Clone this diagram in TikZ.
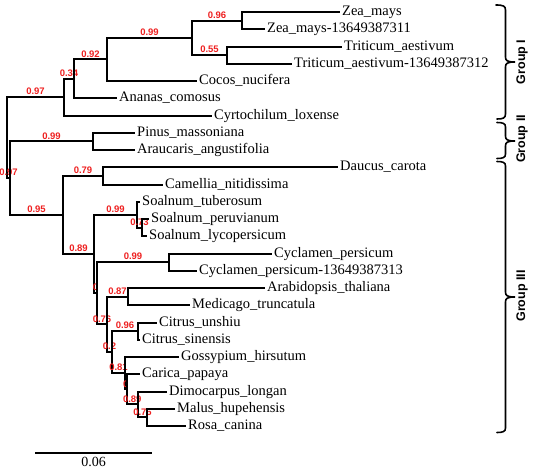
\documentclass[tikz,border=0pt]{standalone}
\usepackage{fontspec}
\setmainfont{Liberation Serif}
\newfontfamily\lsans{Liberation Sans}
\definecolor{bootred}{RGB}{238,32,32}
\tikzset{
 br/.style={line width=2pt, line join=miter},
 leaf/.style={anchor=west, inner xsep=2pt, inner ysep=0pt, text height=9pt, text depth=2pt, font=\fontsize{14.5}{16}\selectfont},
 boot/.style={above, inner sep=1.2pt, text=bootred, font=\lsans\bfseries\fontsize{9.5}{10}\selectfont},
 grp/.style={rotate=90, font=\lsans\bfseries\fontsize{12.5}{14}\selectfont},
 bracepath/.style={line width=1.6pt, line cap=round}
}
\newcommand{\leafat}[4]{\coordinate (#1) at (#2,#3); \node[leaf] (#1t) at (#1) {#4};}
\begin{document}
\begin{tikzpicture}[x=1pt,y=-1pt]
\useasboundingbox (0,0) rectangle (539,472);
% internal nodes
\coordinate (root) at (7,137.7);
\coordinate (n097a) at (64,97.2);
\coordinate (n034) at (74,78.8);
\coordinate (n092) at (107,59.4);
\coordinate (n099a) at (192,37.9);
\coordinate (n096) at (242,20.6);
\coordinate (n055) at (227,55.1);
\coordinate (n097b) at (10,178.2);
\coordinate (nP099) at (93,141.4);
\coordinate (n095) at (63,215);
\coordinate (n079) at (103,175.9);
\coordinate (n089a) at (94,254);
\coordinate (nS099) at (137,214.7);
\coordinate (n073) at (142,227.6);
\coordinate (n0a) at (97,293.2);
\coordinate (nC099) at (169,262.1);
\coordinate (n076a) at (107,324.4);
\coordinate (n087) at (128,296.6);
\coordinate (n02) at (112,352.1);
\coordinate (n096b) at (138,331.1);
\coordinate (n081) at (125,373.2);
\coordinate (nX) at (126.5,389.3);
\coordinate (n089b) at (138,404.4);
\coordinate (n076b) at (147,417.4);
% leaves (tip coordinate + label node)
\leafat{L0}{340}{12}{Zea\_mays}
\leafat{L1}{265}{29.25}{Zea\_mays-13649387311}
\leafat{L2}{342}{46.5}{Triticum\_aestivum}
\leafat{L3}{292}{63.75}{Triticum\_aestivum-13649387312}
\leafat{L4}{197}{81}{Cocos\_nucifera}
\leafat{L5}{117}{98.25}{Ananas\_comosus}
\leafat{L6}{212}{115.5}{Cyrtochilum\_loxense}
\leafat{L7}{135}{132.75}{Pinus\_massoniana}
\leafat{L8}{135}{150}{Araucaris\_angustifolia}
\leafat{L9}{338}{167.25}{Daucus\_carota}
\leafat{L10}{163}{184.5}{Camellia\_nitidissima}
\leafat{L11}{140}{201.75}{Soalnum\_tuberosum}
\leafat{L12}{149}{219}{Soalnum\_peruvianum}
\leafat{L13}{147}{236.25}{Soalnum\_lycopersicum}
\leafat{L14}{272}{253.5}{Cyclamen\_persicum}
\leafat{L15}{197}{270.75}{Cyclamen\_persicum-13649387313}
\leafat{L16}{265}{288}{Arabidopsis\_thaliana}
\leafat{L17}{190}{305.25}{Medicago\_truncatula}
\leafat{L18}{157}{322.5}{Citrus\_unshiu}
\leafat{L19}{140}{339.75}{Citrus\_sinensis}
\leafat{L20}{179}{357}{Gossypium\_hirsutum}
\leafat{L21}{140}{374.25}{Carica\_papaya}
\leafat{L22}{167}{391.5}{Dimocarpus\_longan}
\leafat{L23}{175}{408.75}{Malus\_hupehensis}
\leafat{L24}{186}{426}{Rosa\_canina}
% branches
\draw[br] (root) |- (n097a) node[boot,pos=0.75]{0.97};
\draw[br] (root) |- (n097b) node[boot,pos=0.75]{0.97};
\draw[br] (n097a) |- (n034) node[boot,pos=0.75]{0.34};
\draw[br] (n097a) |- (L6);
\draw[br] (n034) |- (n092) node[boot,pos=0.75]{0.92};
\draw[br] (n034) |- (L5);
\draw[br] (n092) |- (n099a) node[boot,pos=0.75]{0.99};
\draw[br] (n092) |- (L4);
\draw[br] (n099a) |- (n096) node[boot,pos=0.75]{0.96};
\draw[br] (n099a) |- (n055) node[boot,pos=0.75]{0.55};
\draw[br] (n096) |- (L0);
\draw[br] (n096) |- (L1);
\draw[br] (n055) |- (L2);
\draw[br] (n055) |- (L3);
\draw[br] (n097b) |- (nP099) node[boot,pos=0.75]{0.99};
\draw[br] (n097b) |- (n095) node[boot,pos=0.75]{0.95};
\draw[br] (nP099) |- (L7);
\draw[br] (nP099) |- (L8);
\draw[br] (n095) |- (n079) node[boot,pos=0.75]{0.79};
\draw[br] (n095) |- (n089a) node[boot,pos=0.75]{0.89};
\draw[br] (n079) |- (L9);
\draw[br] (n079) |- (L10);
\draw[br] (n089a) |- (nS099) node[boot,pos=0.75]{0.99};
\draw[br] (n089a) |- (n0a) node[boot,pos=0.75]{0};
\draw[br] (nS099) |- (L11);
\draw[br] (nS099) |- (n073) node[boot,pos=0.75]{0.73};
\draw[br] (n073) |- (L12);
\draw[br] (n073) |- (L13);
\draw[br] (n0a) |- (nC099) node[boot,pos=0.75]{0.99};
\draw[br] (n0a) |- (n076a) node[boot,pos=0.75]{0.76};
\draw[br] (nC099) |- (L14);
\draw[br] (nC099) |- (L15);
\draw[br] (n076a) |- (n087) node[boot,pos=0.75]{0.87};
\draw[br] (n076a) |- (n02) node[boot,pos=0.75]{0.2};
\draw[br] (n087) |- (L16);
\draw[br] (n087) |- (L17);
\draw[br] (n02) |- (n096b) node[boot,pos=0.75]{0.96};
\draw[br] (n02) |- (n081) node[boot,pos=0.75]{0.81};
\draw[br] (n096b) |- (L18);
\draw[br] (n096b) |- (L19);
\draw[br] (n081) |- (L20);
\draw[br] (n081) |- (nX) node[boot,pos=0.75]{0};
\draw[br] (nX) |- (L21);
\draw[br] (nX) |- (n089b) node[boot,pos=0.75]{0.89};
\draw[br] (n089b) |- (L22);
\draw[br] (n089b) |- (n076b) node[boot,pos=0.75]{0.76};
\draw[br] (n076b) |- (L23);
\draw[br] (n076b) |- (L24);
% group braces
\draw[bracepath] (496,5) .. controls (503,5) and (505.5,6) .. (505.5,10) -- (505.5,57) .. controls (505.5,60.5) and (507,62) .. (515,62) .. controls (507,62) and (505.5,63.5) .. (505.5,67) -- (505.5,114) .. controls (505.5,118) and (503,119) .. (497,119);
\draw[bracepath] (497,122.5) .. controls (503,122.5) and (505.5,123.5) .. (505.5,127) -- (505.5,136) .. controls (505.5,139.5) and (507,141) .. (515,141) .. controls (507,141) and (505.5,142.5) .. (505.5,146) -- (505.5,154) .. controls (505.5,157.5) and (503,158.5) .. (497,158.5);
\draw[bracepath] (497,161.5) .. controls (503,161.5) and (505.5,162.5) .. (505.5,166) -- (505.5,292) .. controls (505.5,295.5) and (507,297) .. (515,297) .. controls (507,297) and (505.5,298.5) .. (505.5,302) -- (505.5,428) .. controls (505.5,431.5) and (503,432.5) .. (497,432.5);
\node[grp] (g1) at (522,62) {Group I};
\node[grp] (g2) at (522,139) {Group II};
\node[grp] (g3) at (522,296) {Group III};
% scale bar
\coordinate (s0) at (35,453);
\coordinate (s1) at (152,453);
\draw[br] (s0) -- (s1) node[midway, below, inner sep=3pt, font=\fontsize{14}{16}\selectfont] (sl) {0.06};
\end{tikzpicture}
\end{document}
